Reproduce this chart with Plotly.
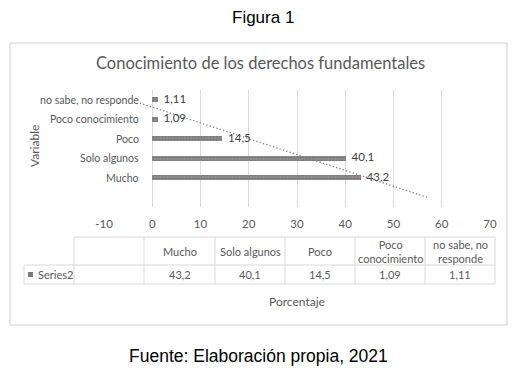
import numpy as np
import plotly.graph_objects as go

# ---- data ----
categories = ["Mucho", "Solo algunos", "Poco", "Poco conocimiento", "no sabe, no responde"]
table_headers = ["Mucho", "Solo algunos", "Poco", "Poco<br>conocimiento", "no sabe, no<br>responde"]
values = [43.2, 40.1, 14.5, 1.09, 1.11]
series_name = "Series2"
x_ticks = [-10, 0, 10, 20, 30, 40, 50, 60, 70]

W, H = 526, 375
FONT = "Lato"
GRAY = "#595959"
LINE = "#d9d9d9"


def px(x):
    return x / W


def py(y):
    return 1 - y / H


def fmt(v):
    return str(v).replace(".", ",")


def note(x, y, text, size=11, color=GRAY, family=FONT, xanchor="center", **kw):
    return dict(x=px(x), y=py(y), xref="paper", yref="paper", text=text,
                xanchor=xanchor, yanchor="middle", showarrow=False,
                font=dict(family=family, size=size, color=color), **kw)


positions = list(range(1, len(categories) + 1))

# linear trendline (category index vs value), extended one period backward
slope, intercept = np.polyfit(positions, values, 1)
trend_pos = [0, len(categories)]
trend_x = [slope * p + intercept for p in trend_pos]

fig = go.Figure()
fig.add_trace(go.Scatter(
    x=trend_x, y=trend_pos, mode="lines",
    line=dict(color="#7f7f7f", width=1.3, dash="1.3px,2.2px"),
    hoverinfo="skip", showlegend=False,
))
fig.add_trace(go.Bar(
    x=values, y=positions, orientation="h", width=0.28,
    marker=dict(color="#8c8c8c", line=dict(width=0),
                pattern=dict(shape=".", fgcolor="#666666", size=3, solidity=0.4)),
    showlegend=False, name=series_name, hoverinfo="skip",
))
fig.add_trace(go.Scatter(
    x=values, y=positions, mode="text", text=["  " + fmt(v) for v in values],
    textposition="middle right",
    textfont=dict(family=FONT, size=11.5, color="#404040"),
    cliponaxis=False, showlegend=False, hoverinfo="skip",
))

annotations = []
shapes = []

# category labels beside the vertical axis (drawn over the plot, white box)
for p, c in zip(positions, categories):
    annotations.append(dict(
        x=0, y=p, xref="x", yref="y", xanchor="right", yanchor="middle",
        xshift=-12, text=c, showarrow=False, bgcolor="white", borderpad=0,
        font=dict(family=FONT, size=10.6, color=GRAY)))

# titles
annotations.append(note(263, 17, "Figura 1", size=17, color="black", family="Liberation Sans"))
annotations.append(note(258, 356, "Fuente: Elaboración propia, 2021", size=17.5, color="black",
                        family="Liberation Sans"))
annotations.append(note(260, 63, "Conocimiento de los derechos fundamentales", size=16.5))
annotations.append(note(297, 301, "Porcentaje", size=12))
annotations.append(note(34, 146, "Variable", size=12, textangle=-90))

# chart frame
shapes.append(dict(type="rect", xref="paper", yref="paper", x0=px(10), x1=px(507),
                   y0=py(43), y1=py(325), line=dict(color="#d0d0d0", width=1)))

# data table
col_edges = [24, 74, 144, 215, 285, 355, 425, 495]
row_top, row_mid, row_bot = 237, 265, 284
line = dict(color=LINE, width=1)
shapes.append(dict(type="line", xref="paper", yref="paper", x0=px(74), x1=px(495),
                   y0=py(row_top), y1=py(row_top), line=line))
for yy in (row_mid, row_bot):
    shapes.append(dict(type="line", xref="paper", yref="paper", x0=px(24), x1=px(495),
                       y0=py(yy), y1=py(yy), line=line))
shapes.append(dict(type="line", xref="paper", yref="paper", x0=px(24), x1=px(24),
                   y0=py(row_mid), y1=py(row_bot), line=line))
for xx in col_edges[1:]:
    shapes.append(dict(type="line", xref="paper", yref="paper", x0=px(xx), x1=px(xx),
                       y0=py(row_top), y1=py(row_bot), line=line))

for i, (h, v) in enumerate(zip(table_headers, values)):
    cx = (col_edges[i + 2] + col_edges[i + 3]) / 2
    annotations.append(note(cx, (row_top + row_mid) / 2, h))
    annotations.append(note(cx, (row_mid + row_bot) / 2, fmt(v)))

# legend key + series name
shapes.append(dict(type="rect", xref="paper", yref="paper", x0=px(28), x1=px(33),
                   y0=py(277), y1=py(272), fillcolor="#7a7a7a", line=dict(width=0)))
annotations.append(note(36, 274.5, series_name, xanchor="left"))

fig.update_layout(
    width=W, height=H,
    margin=dict(l=0, r=0, t=0, b=0, autoexpand=False),
    paper_bgcolor="white", plot_bgcolor="white",
    xaxis=dict(domain=[px(104), px(490)], range=[-10, 70], tickvals=x_ticks,
               ticktext=[str(t) for t in x_ticks],
               showgrid=True, gridcolor=LINE, gridwidth=1, zeroline=False,
               showline=False, ticks="", ticklabelstandoff=8, automargin=False,
               tickfont=dict(family=FONT, size=11.5, color=GRAY)),
    yaxis=dict(domain=[py(207), py(90)], range=[-0.5, len(categories) + 0.5],
               showgrid=False, zeroline=False, showticklabels=False, showline=False,
               automargin=False),
    annotations=annotations,
    shapes=shapes,
    bargap=0,
)

fig.write_html("out.html", config={"displayModeBar": False},
               post_script="document.body.style.margin='0';")
